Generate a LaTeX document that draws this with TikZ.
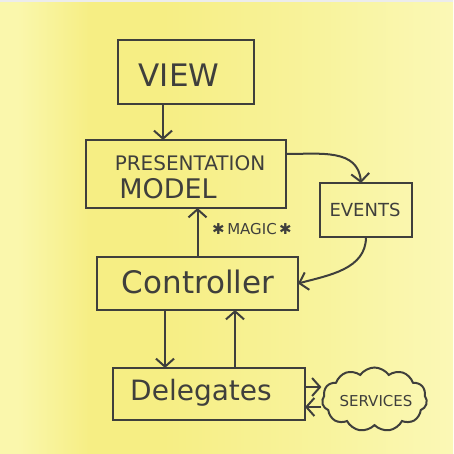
\documentclass[tikz,border=0pt]{standalone}
\usepackage{fontspec}
\setmainfont{DejaVu Sans}
\usetikzlibrary{arrows.meta,shapes.symbols,calc}
\definecolor{ink}{HTML}{3F3F3C}
\definecolor{paleY}{HTML}{FAF7AC}
\definecolor{deepY}{HTML}{F6EE84}
\definecolor{midY}{HTML}{F8F39C}
\definecolor{rightY}{HTML}{FBF8B6}
\pgfdeclarehorizontalshading{note}{100bp}{%
  color(0bp)=(paleY); color(25bp)=(paleY); color(27bp)=(paleY); color(35bp)=(deepY);
  color(43bp)=(deepY); color(60bp)=(midY); color(75bp)=(rightY); color(100bp)=(rightY)}
\tikzset{
  box/.style={draw=ink, line width=2.6pt, rectangle, inner sep=0pt, outer sep=0pt},
  lbl/.style={text=ink, inner sep=0pt, anchor=center},
  arr/.style={draw=ink, line width=2pt, -{Straight Barb[length=8pt,width=18pt,line width=2pt]}},
}
\begin{document}
\begin{tikzpicture}[x=1pt,y=-1pt]
\useasboundingbox (0,0) rectangle (453,454);
\fill[shading=note] (0,0) rectangle (453,454);
\fill[white!85!gray] (0,0) rectangle (453,2);

% boxes
\node[box, minimum width=136pt, minimum height=64pt] (view) at (186,72) {};
\node[box, minimum width=200pt, minimum height=68pt] (pm) at (186,174) {};
\node[box, minimum width=92pt, minimum height=54pt] (events) at (366,210) {};
\node[box, minimum width=201pt, minimum height=53pt] (ctrl) at (197.5,283.5) {};
\node[box, minimum width=192pt, minimum height=52pt] (deleg) at (209,394) {};
\node[draw=ink, line width=2pt, cloud, cloud puffs=11, cloud puff arc=110,
      minimum width=105pt, minimum height=64pt, inner sep=0pt] (serv) at (374.5,399.5) {};

% texts
\node[lbl, font=\fontsize{31}{31}\selectfont] (viewtxt) at (179,75) {VIEW};
\node[lbl, font=\fontsize{20}{20}\selectfont] (pmtxt1) at (190,163) {PRESENTATION};
\node[lbl, font=\fontsize{27}{27}\selectfont] (pmtxt2) at (168,189) {MODEL};
\node[lbl, font=\fontsize{18}{18}\selectfont] (evtxt) at (365,210) {EVENTS};
\node[lbl, font=\fontsize{15}{15}\selectfont] (magic) at (252,229) {✱\,MAGIC\,✱};
\node[lbl, font=\fontsize{31}{31}\selectfont] (ctrltxt) at (198,282) {Controller};
\node[lbl, font=\fontsize{28}{28}\selectfont] (delegtxt) at (201,393) {Delegates};
\node[lbl, font=\fontsize{15}{15}\selectfont] (servtxt) at (376,401) {SERVICES};

% connectors
\draw[arr] ([xshift=-23pt]view.south) -- ([xshift=-23pt]view.south |- pm.north);
\draw[arr] ([yshift=20pt]pm.east) to[out=0, in=95, looseness=1.1] ([xshift=-5pt]events.north);
\draw[arr] (events.south) to[out=-90, in=15, looseness=1] (ctrl.east);
\draw[arr] (ctrl.north) -- (ctrl.north |- pm.south);
\draw[arr] ([xshift=-32.5pt]ctrl.south) -- ([xshift=-32.5pt]ctrl.south |- deleg.north);
\draw[arr] ([xshift=26pt]deleg.north) -- ([xshift=26pt]deleg.north |- ctrl.south);
\draw[arr] ([yshift=7pt]deleg.east) -- ([yshift=7pt]deleg.east -| serv.west);
\draw[arr] ([yshift=-13pt]deleg.east -| serv.west) -- ([yshift=-13pt]deleg.east);
\end{tikzpicture}
\end{document}
